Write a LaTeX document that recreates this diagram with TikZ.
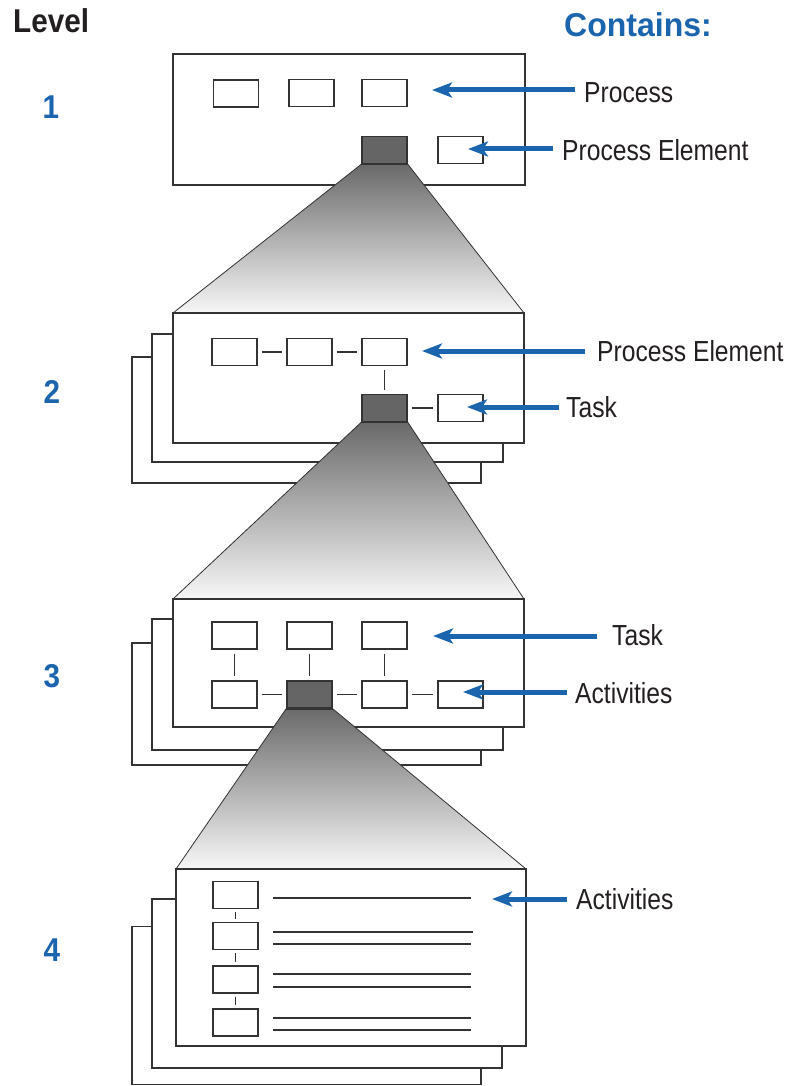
\documentclass[tikz,border=0pt]{standalone}
\usepackage{fontspec}
\usetikzlibrary{arrows.meta}
\newfontfamily\lblfont{Liberation Sans}[FakeStretch=0.85]
\newfontfamily\hdfont{Liberation Sans}[FakeStretch=0.9]
\newfontfamily\ctfont{Liberation Sans}[FakeStretch=0.97]
\definecolor{linec}{HTML}{333333}
\definecolor{bluec}{HTML}{1B65AE}
\definecolor{darkbox}{HTML}{656565}
\definecolor{ftop}{HTML}{6A6A6A}
\definecolor{fbot}{HTML}{F7F7F7}
\definecolor{txtc}{HTML}{231F20}
\tikzset{
  page/.style={draw=linec, fill=white, line width=1.9pt, rectangle, inner sep=0pt},
  sbox/.style={draw=linec, fill=white, line width=1.9pt, rectangle, inner sep=0pt, minimum width=45pt, minimum height=27pt},
  dbox/.style={sbox, fill=darkbox},
  conn/.style={draw=linec, line width=1.9pt, shorten <=4pt, shorten >=4pt},
  tline/.style={draw=linec, line width=1.9pt},
  arr/.style={draw=bluec, line width=5pt, -{Stealth[length=20pt,width=15pt,inset=5pt]}},
  lbl/.style={anchor=west, inner sep=0pt, text=txtc, font=\lblfont\fontsize{29}{32}\selectfont},
  hd/.style={inner sep=0pt, font=\hdfont\bfseries\fontsize{33}{36}\selectfont},
  lvl/.style={hd, text=bluec},
  funnel/.style={top color=ftop, bottom color=fbot},
  fedge/.style={draw=linec, line width=0.8pt}
}
\begin{document}
\begin{tikzpicture}[x=1pt,y=-1pt]
\useasboundingbox (0,0) rectangle (790,1086);

% headings
\node[hd, anchor=west, text=txtc] (hlevel) at (13,21) {Level};
\node[inner sep=0pt, anchor=west, text=bluec, font=\ctfont\bfseries\fontsize{33}{36}\selectfont] (hcont) at (564,25) {Contains:};
\node[lvl] (n1) at (51,107) {1};
\node[lvl] (n2) at (52,392) {2};
\node[lvl] (n3) at (52,676) {3};
\node[lvl] (n4) at (52,950) {4};

% ---------------- Level 1
\node[page, minimum width=352pt, minimum height=131pt] (p1) at (349,119.5) {};
\node[sbox] (b11) at (236,93.5) {};
\node[sbox] (b12) at (311.5,93) {};
\node[sbox] (b13) at (384.5,93) {};
\node[dbox] (d1) at (384.5,150) {};
\node[sbox] (b14) at (460.5,150) {};

% ---------------- Funnel 1
\shade[funnel] (d1.south west) -- (d1.south east) -- (524,313) -- (173,313) -- cycle;
\draw[fedge] (d1.south west) -- (173,313);
\draw[fedge] (d1.south east) -- (524,313);
\draw[tline] (d1.south west) -- (d1.south east);

% ---------------- Level 2
\node[page, minimum width=349pt, minimum height=126pt] (p2c) at (306.5,420) {};
\node[page, minimum width=351pt, minimum height=128pt] (p2b) at (327.5,398) {};
\node[page, minimum width=351pt, minimum height=130pt] (p2a) at (348.5,378) {};
\node[sbox] (b21) at (234.5,352) {};
\node[sbox] (b22) at (309.5,352) {};
\node[sbox] (b23) at (384.5,352) {};
\node[dbox] (d2) at (384.5,408) {};
\node[sbox] (b24) at (460.5,408) {};
\draw[conn] (b21.east) -- (b22.west);
\draw[conn] (b22.east) -- (b23.west);
\draw[conn] (b23.south) -- (d2.north);
\draw[conn] (d2.east) -- (b24.west);

% ---------------- Funnel 2
\shade[funnel] (d2.south west) -- (d2.south east) -- (524,599) -- (173,599) -- cycle;
\draw[fedge] (d2.south west) -- (173,599);
\draw[fedge] (d2.south east) -- (524,599);
\draw[tline] (d2.south west) -- (d2.south east);

% ---------------- Level 3
\node[page, minimum width=349pt, minimum height=122pt] (p3c) at (306.5,704) {};
\node[page, minimum width=351pt, minimum height=131pt] (p3b) at (327.5,684.5) {};
\node[page, minimum width=351pt, minimum height=128pt] (p3a) at (348.5,663) {};
\node[sbox] (b31) at (234.5,635.5) {};
\node[sbox] (b32) at (309.5,635.5) {};
\node[sbox] (b33) at (384.5,635.5) {};
\node[sbox] (b34) at (234.5,694.5) {};
\node[dbox] (d3) at (309.5,694.5) {};
\node[sbox] (b35) at (384.5,694.5) {};
\node[sbox] (b36) at (460.5,694.5) {};
\draw[conn] (b31.south) -- (b34.north);
\draw[conn] (b32.south) -- (d3.north);
\draw[conn] (b33.south) -- (b35.north);
\draw[conn] (b34.east) -- (d3.west);
\draw[conn] (d3.east) -- (b35.west);
\draw[conn] (b35.east) -- (b36.west);

% ---------------- Funnel 3
\shade[funnel] (d3.south west) -- (d3.south east) -- (526,869) -- (176,869) -- cycle;
\draw[fedge] (d3.south west) -- (176,869);
\draw[fedge] (d3.south east) -- (526,869);
\draw[tline] (d3.south west) -- (d3.south east);

% ---------------- Level 4
\node[page, minimum width=349pt, minimum height=158pt] (p4c) at (306.5,1005.5) {};
\node[page, minimum width=350pt, minimum height=169pt] (p4b) at (327,983.5) {};
\node[page, minimum width=350pt, minimum height=177pt] (p4a) at (351,957.5) {};
\node[sbox] (b41) at (235.5,895) {};
\node[sbox] (b42) at (235.5,936) {};
\node[sbox] (b43) at (235.5,979.5) {};
\node[sbox] (b44) at (235.5,1022.5) {};
\draw[conn, shorten <=3pt, shorten >=3pt] (b41.south) -- (b42.north);
\draw[conn, shorten <=3pt, shorten >=3pt] (b42.south) -- (b43.north);
\draw[conn, shorten <=3pt, shorten >=3pt] (b43.south) -- (b44.north);
\draw[tline] (273,898) -- (471,898);
\draw[tline] (273,932) -- (473,932);
\draw[tline] (273,944) -- (471,944);
\draw[tline] (273,974) -- (471,974);
\draw[tline] (273,987) -- (471,987);
\draw[tline] (273,1018) -- (471,1018);
\draw[tline] (273,1030) -- (471,1030);

% ---------------- labels and arrows
\coordinate (t1) at (432,90);
\coordinate (t2) at (468,149);
\coordinate (t3) at (422,351);
\coordinate (t4) at (467,407);
\coordinate (t5) at (433,636);
\coordinate (t6) at (463,692);
\coordinate (t7) at (492,899);

\node[lbl] (l1) at (584,92.5) {Process};
\node[lbl] (l2) at (562,150) {Process Element};
\node[lbl] (l3) at (597,351.5) {Process Element};
\node[lbl] (l4) at (566,407) {Task};
\node[lbl] (l5) at (612,635) {Task};
\node[lbl] (l6) at (575,693) {Activities};
\node[lbl] (l7) at (576,899.5) {Activities};

\draw[arr, shorten <=9pt] (l1.west |- t1) -- (t1);
\draw[arr, shorten <=9pt] (l2.west |- t2) -- (t2);
\draw[arr, shorten <=12pt] (l3.west |- t3) -- (t3);
\draw[arr, shorten <=7pt] (l4.west |- t4) -- (t4);
\draw[arr, shorten <=15pt] (l5.west |- t5) -- (t5);
\draw[arr, shorten <=8pt] (l6.west |- t6) -- (t6);
\draw[arr, shorten <=9pt] (l7.west |- t7) -- (t7);
\end{tikzpicture}
\end{document}
